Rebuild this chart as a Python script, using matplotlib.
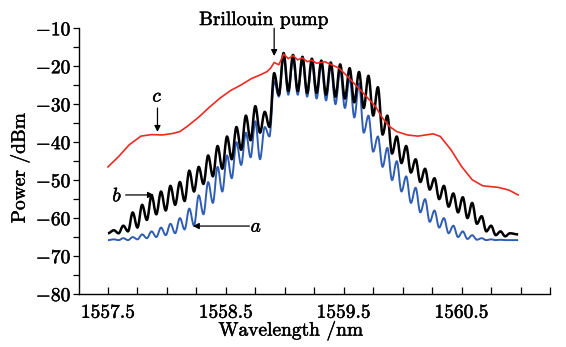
import matplotlib
matplotlib.use("Agg")
import matplotlib.pyplot as plt
from matplotlib.ticker import FixedLocator
from matplotlib.path import Path
from matplotlib.patches import PathPatch
import matplotlib.patheffects as pe

# ---------------- data ----------------
# wavelengths of successive extrema (troughs / peaks) of the comb spectra
wl_comb = [1557.50, 1557.55, 1557.59, 1557.63, 1557.67, 1557.71, 1557.75, 1557.79, 1557.83, 1557.87,
           1557.91, 1557.95, 1557.99, 1558.03, 1558.07, 1558.11, 1558.15, 1558.19, 1558.23, 1558.27,
           1558.31, 1558.35, 1558.39, 1558.43, 1558.47, 1558.51, 1558.55, 1558.59, 1558.63, 1558.67,
           1558.71, 1558.75, 1558.79, 1558.83, 1558.87, 1558.91, 1558.95, 1558.99, 1559.03, 1559.07,
           1559.11, 1559.15, 1559.19, 1559.23, 1559.27, 1559.31, 1559.35, 1559.39, 1559.43, 1559.47,
           1559.51, 1559.55, 1559.59, 1559.63, 1559.67, 1559.71, 1559.75, 1559.79, 1559.83, 1559.87,
           1559.91, 1559.95, 1559.99, 1560.03, 1560.07, 1560.11, 1560.15, 1560.19, 1560.23, 1560.27,
           1560.31, 1560.35, 1560.39, 1560.43, 1560.47, 1560.51, 1560.55, 1560.59, 1560.63, 1560.67,
           1560.71, 1560.75, 1560.79, 1560.83, 1560.87, 1560.91, 1560.98]

power_b = [-64.0, -63.2, -64.0, -62.0, -63.5, -58.5, -62.5, -56.5, -60.5, -54.0,
           -59.0, -53.0, -58.0, -51.5, -56.5, -50.5, -55.5, -47.5, -53.0, -46.5,
           -51.0, -43.5, -49.0, -41.0, -47.0, -38.5, -44.5, -36.0, -42.0, -33.0,
           -39.5, -30.5, -37.5, -32.0, -36.0, -21.8, -27.5, -16.5, -26.5, -17.0,
           -26.5, -17.5, -27.0, -18.0, -27.0, -18.5, -27.5, -19.0, -28.0, -19.5,
           -28.5, -20.5, -29.5, -21.5, -31.0, -22.5, -33.0, -25.5, -38.0, -33.0,
           -43.0, -38.5, -45.5, -41.0, -48.0, -44.5, -50.5, -47.0, -52.5, -49.5,
           -55.0, -51.5, -57.0, -53.5, -58.5, -54.5, -60.0, -56.0, -61.5, -59.5,
           -63.5, -62.0, -64.5, -63.5, -64.8, -64.0, -64.3]

power_a = [-65.8, -65.6, -65.8, -65.3, -65.8, -65.0, -65.6, -64.3, -65.3, -63.5,
           -65.0, -62.5, -64.5, -61.5, -64.0, -60.0, -63.0, -57.5, -62.0, -54.0,
           -59.0, -50.5, -56.0, -46.5, -53.0, -43.5, -49.5, -40.0, -46.0, -37.5,
           -44.0, -34.5, -44.5, -36.0, -38.5, -24.0, -28.0, -17.5, -27.5, -18.0,
           -27.5, -18.5, -28.0, -19.0, -28.5, -19.5, -29.0, -20.0, -30.0, -21.0,
           -31.0, -23.0, -33.5, -24.5, -37.5, -33.0, -42.5, -38.5, -46.5, -41.5,
           -50.0, -45.0, -53.0, -49.0, -56.0, -52.0, -58.5, -55.0, -61.0, -58.0,
           -62.5, -60.0, -64.0, -62.0, -65.0, -63.5, -65.5, -64.5, -65.7, -65.3,
           -65.8, -65.6, -65.8, -65.7, -65.8, -65.8, -65.8]

wl_c = [1557.50, 1557.59, 1557.68, 1557.78, 1557.87, 1557.96, 1558.05, 1558.11, 1558.17, 1558.27,
        1558.36, 1558.45, 1558.54, 1558.63, 1558.72, 1558.79, 1558.85, 1558.88, 1558.91, 1558.95,
        1558.99, 1559.03, 1559.07, 1559.11, 1559.15, 1559.19, 1559.23, 1559.27, 1559.34, 1559.46,
        1559.52, 1559.64, 1559.77, 1559.83, 1559.89, 1559.95, 1560.04, 1560.13, 1560.26, 1560.32,
        1560.41, 1560.50, 1560.59, 1560.68, 1560.81, 1560.90, 1560.98]
power_c = [-46.5, -43.8, -40.7, -38.4, -38.0, -38.1, -37.7, -37.2, -35.9, -33.4,
           -30.8, -28.4, -26.4, -24.9, -23.2, -22.3, -21.4, -20.5, -19.0, -19.6,
           -16.8, -18.0, -17.2, -18.3, -17.8, -18.8, -18.4, -19.2, -18.8, -20.5,
           -22.3, -26.2, -30.6, -33.7, -35.9, -37.2, -38.1, -38.4, -37.8, -38.5,
           -42.0, -46.4, -49.9, -51.5, -51.9, -52.6, -53.9]

x_major = [1557.5, 1558.5, 1559.5, 1560.5]
x_labels = ["1557.5", "1558.5", "1559.5", "1560.5"]
x_minor = [1557.75, 1558.0, 1558.25, 1558.75, 1559.0, 1559.25, 1559.75, 1560.0,
           1560.25, 1560.75, 1561.0, 1561.25]
y_major = [-80, -70, -60, -50, -40, -30, -20, -10]
y_labels = ["$-80$", "$-70$", "$-60$", "$-50$", "$-40$", "$-30$", "$-20$", "$-10$"]
y_minor = [-75, -65, -55, -45, -35, -25, -15]

# ---------------- style ----------------
plt.rcParams["font.family"] = ["cmr10", "DejaVu Serif"]
plt.rcParams["mathtext.fontset"] = "cm"
plt.rcParams["axes.unicode_minus"] = False
FS = 14
BOLDEN = [pe.withStroke(linewidth=0.35, foreground="black")]

fig = plt.figure(figsize=(5.66, 3.47), dpi=100)
ax = fig.add_axes([0.1387, 0.1527, 0.8330, 0.7657])


def comb_path(xs, ys):
    """Smooth curve through successive extrema (horizontal tangent at each)."""
    verts = [(xs[0], ys[0])]
    codes = [Path.MOVETO]
    for i in range(1, len(xs)):
        x0, y0, x1, y1 = xs[i - 1], ys[i - 1], xs[i], ys[i]
        d = 0.36 * (x1 - x0)
        verts += [(x0 + d, y0), (x1 - d, y1), (x1, y1)]
        codes += [Path.CURVE4] * 3
    return Path(verts, codes)


ax.add_patch(PathPatch(comb_path(wl_comb, power_a), fill=False, edgecolor="#2f5db3",
                       lw=1.4, joinstyle="round", zorder=2))
ax.add_patch(PathPatch(comb_path(wl_comb, power_b), fill=False, edgecolor="black",
                       lw=1.8, joinstyle="round", zorder=3))
ax.plot(wl_c, power_c, color="#ec2a22", lw=1.2, solid_joinstyle="round", zorder=4)

ax.set_xlim(1557.25, 1561.25)
ax.set_ylim(-80, -10)

ax.spines["top"].set_visible(False)
ax.spines["right"].set_visible(False)
for s in ("left", "bottom"):
    ax.spines[s].set_linewidth(1.0)

ax.xaxis.set_major_locator(FixedLocator(x_major))
ax.xaxis.set_minor_locator(FixedLocator(x_minor))
ax.set_xticklabels(x_labels)
ax.yaxis.set_major_locator(FixedLocator(y_major))
ax.yaxis.set_minor_locator(FixedLocator(y_minor))
ax.set_yticklabels(y_labels)

ax.tick_params(axis="x", which="both", direction="in", length=4.8, width=0.9, pad=7, labelsize=FS)
ax.tick_params(axis="y", which="both", direction="out", length=4.5, width=0.9, pad=0.5, labelsize=FS)
for t in ax.get_xticklabels() + ax.get_yticklabels():
    t.set_path_effects(BOLDEN)

ax.set_xlabel("Wavelength /nm", fontsize=FS, path_effects=BOLDEN)
ax.xaxis.set_label_coords(0.45, -0.10)
ax.set_ylabel("Power /dBm", fontsize=FS, path_effects=BOLDEN)
ax.yaxis.set_label_coords(-0.1035, 0.473)

arrow = dict(arrowstyle="-|>", color="black", lw=0.9, mutation_scale=9, shrinkA=0, shrinkB=0)

ax.text(1558.82, -9.13, "Brillouin pump", fontsize=FS, ha="center", va="baseline",
        clip_on=False, path_effects=BOLDEN)
ax.annotate("", xy=(1558.91, -17.3), xytext=(1558.91, -10.0), arrowprops=arrow)

ax.text(1557.92, -29.3, "$c$", fontsize=FS, ha="center", va="baseline", path_effects=BOLDEN)
ax.annotate("", xy=(1557.92, -37.3), xytext=(1557.92, -31.0), arrowprops=arrow)

ax.text(1557.58, -55.6, "$b$", fontsize=FS, ha="center", va="baseline", path_effects=BOLDEN)
ax.annotate("", xy=(1557.89, -53.9), xytext=(1557.65, -53.9), arrowprops=arrow)

ax.text(1558.76, -63.6, "$a$", fontsize=FS, ha="center", va="baseline", path_effects=BOLDEN)
ax.annotate("", xy=(1558.22, -62.1), xytext=(1558.70, -62.1), arrowprops=arrow)

fig.savefig("out.png", dpi=100)
